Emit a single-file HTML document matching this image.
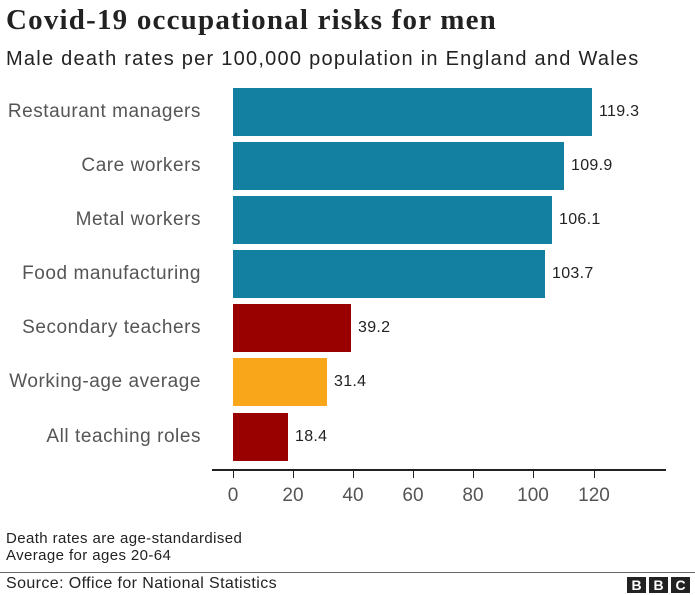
<!DOCTYPE html>
<html><head><style>
body{margin:0;width:695px;height:595px;background:#fff;position:relative;font-family:"Liberation Sans",sans-serif;overflow:hidden}
.a{position:absolute;white-space:nowrap}
.lab{position:absolute;right:494px;font-size:19px;letter-spacing:0.55px;color:#555;line-height:48px}
.bar{position:absolute;left:233px;height:48px}
.val{position:absolute;font-size:16px;letter-spacing:0.3px;color:#222;line-height:48px}
.tk{position:absolute;top:470px;width:1px;height:8px;background:#222}
.tl{position:absolute;top:485px;font-size:19px;color:#555;width:60px;text-align:center}
</style></head><body>
<div class="a" style="left:6px;top:4px;font-family:'Liberation Serif',serif;font-weight:bold;font-size:29px;letter-spacing:1.2px;color:#222">Covid-19 occupational risks for men</div>
<div class="a" style="left:6px;top:48px;font-size:20px;letter-spacing:1.25px;color:#222">Male death rates per 100,000 population in England and Wales</div>

<div class="lab" style="top:88px">Restaurant managers</div>
<div class="bar" style="top:88px;width:359px;background:#1380A1"></div>
<div class="val" style="top:88px;left:599px">119.3</div>

<div class="lab" style="top:142px">Care workers</div>
<div class="bar" style="top:142px;width:331px;background:#1380A1"></div>
<div class="val" style="top:142px;left:571px">109.9</div>

<div class="lab" style="top:196px">Metal workers</div>
<div class="bar" style="top:196px;width:319px;background:#1380A1"></div>
<div class="val" style="top:196px;left:559px">106.1</div>

<div class="lab" style="top:250px">Food manufacturing</div>
<div class="bar" style="top:250px;width:312px;background:#1380A1"></div>
<div class="val" style="top:250px;left:552px">103.7</div>

<div class="lab" style="top:304px">Secondary teachers</div>
<div class="bar" style="top:304px;width:118px;background:#990000"></div>
<div class="val" style="top:304px;left:358px">39.2</div>

<div class="lab" style="top:358px">Working-age average</div>
<div class="bar" style="top:358px;width:94px;background:#FAA61A"></div>
<div class="val" style="top:358px;left:334px">31.4</div>

<div class="lab" style="top:413px">All teaching roles</div>
<div class="bar" style="top:413px;width:55px;background:#990000"></div>
<div class="val" style="top:413px;left:295px">18.4</div>

<div class="a" style="left:212px;top:469px;width:454px;height:2px;background:#222"></div>
<div class="tk" style="left:233px"></div><div class="tk" style="left:293px"></div><div class="tk" style="left:353px"></div><div class="tk" style="left:413px"></div><div class="tk" style="left:473px"></div><div class="tk" style="left:533px"></div><div class="tk" style="left:594px"></div>
<div class="tl" style="left:203px">0</div><div class="tl" style="left:263px">20</div><div class="tl" style="left:323px">40</div><div class="tl" style="left:383px">60</div><div class="tl" style="left:443px">80</div><div class="tl" style="left:503px">100</div><div class="tl" style="left:564px">120</div>

<div class="a" style="left:6px;top:530px;font-size:15px;letter-spacing:0.4px;color:#222;line-height:17px">Death rates are age-standardised<br>Average for ages 20-64</div>
<div class="a" style="left:0;top:572px;width:695px;height:1px;background:#666"></div>
<div class="a" style="left:6px;top:575px;font-size:16px;letter-spacing:0.4px;color:#222">Source: Office for National Statistics</div>
<div class="a" style="left:627px;top:577px;display:flex;gap:3px">
<span style="display:inline-block;width:19px;height:16px;background:#222;color:#fff;font-weight:bold;font-size:14px;line-height:16px;text-align:center">B</span><span style="display:inline-block;width:19px;height:16px;background:#222;color:#fff;font-weight:bold;font-size:14px;line-height:16px;text-align:center">B</span><span style="display:inline-block;width:19px;height:16px;background:#222;color:#fff;font-weight:bold;font-size:14px;line-height:16px;text-align:center">C</span>
</div>
</body></html>
